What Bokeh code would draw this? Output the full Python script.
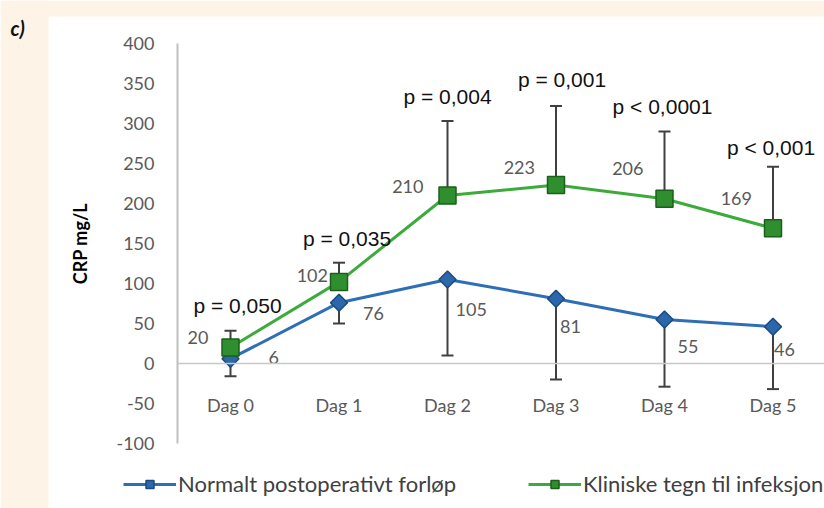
import numpy as np
from bokeh.plotting import figure
from bokeh.models import (ColumnDataSource, Range1d, FixedTicker, Whisker, TeeHead,
                          Legend, LegendItem, BoxAnnotation, Label)
from bokeh.core.properties import value
from bokeh.embed import file_html
from bokeh.resources import INLINE

# ---------------- data ----------------
days = ["Dag 0", "Dag 1", "Dag 2", "Dag 3", "Dag 4", "Dag 5"]
normal_mean = [6, 76, 105, 81, 55, 46]
normal_sd = [22, 26, 95, 101, 84, 78]
infection_mean = [20, 102, 210, 223, 206, 169]
infection_sd = [21, 24, 93, 99, 84, 77]
p_values = ["p = 0,050", "p = 0,035", "p = 0,004", "p = 0,001", "p < 0,0001", "p < 0,001"]
y_ticks = [-100, -50, 0, 50, 100, 150, 200, 250, 300, 350, 400]
series_names = ["Normalt postoperativt forløp", "Kliniske tegn til infeksjon"]
y_title = "CRP mg/L"
panel_tag = "c)"

# ---------------- label nudges (pixels, layout only) ----------------
green_dx = [-22, -11, -24, -21, -21, -21]
green_dy = [-10, -6, -9, -18, -30, -30]
blue_dx = [38, 24, 8, 4, 13, 1]
blue_dy = [-1, 11, 30, 28, 27, 23]
p_dx = [7, 8, 0, 6, -2, -2]
p_dy = [-25, -24, -25, -26, -25, -19]

# ---------------- layout constants ----------------
W, H = 824, 508
PX_PER_DAY = 108.5
PX_PER_UNIT = 0.8
DAY0_PX = 230
ZERO_PX = 363
YAXIS_PX = 177
CREAM = "#fdf4e7"
BLUE = "#2d6fb6"
GREEN = "#3cab3c"
BAR = "#404040"
TICK = "#595959"

x_start = -DAY0_PX / PX_PER_DAY
x_end = (W - DAY0_PX) / PX_PER_DAY
y_end = ZERO_PX / PX_PER_UNIT
y_start = -(H - ZERO_PX) / PX_PER_UNIT
yaxis_x = (YAXIS_PX - DAY0_PX) / PX_PER_DAY

xs = list(range(len(days)))

src_n = ColumnDataSource(dict(
    x=xs, y=normal_mean,
    lower=[m - s for m, s in zip(normal_mean, normal_sd)],
    label=[str(v) for v in normal_mean], dx=blue_dx, dy=blue_dy))
src_i = ColumnDataSource(dict(
    x=xs, y=infection_mean,
    upper=[m + s for m, s in zip(infection_mean, infection_sd)],
    label=[str(v) for v in infection_mean], dx=green_dx, dy=green_dy))
src_p = ColumnDataSource(dict(
    x=xs, y=[m + s for m, s in zip(infection_mean, infection_sd)],
    text=p_values, dx=p_dx, dy=p_dy))

p = figure(width=W, height=H, x_range=Range1d(x_start, x_end),
           y_range=Range1d(y_start, y_end), output_backend="svg",
           toolbar_location=None, min_border=0,
           background_fill_color="white", border_fill_color="white")
p.outline_line_color = None
p.grid.visible = False

# cream page strips
p.add_layout(BoxAnnotation(right=x_start + 48 / PX_PER_DAY, fill_color=CREAM, fill_alpha=1.0,
                           line_color=None, level="underlay"))
p.add_layout(BoxAnnotation(bottom=y_end - 16 / PX_PER_UNIT, fill_color=CREAM, fill_alpha=1.0,
                           line_color=None, level="underlay"))

# error bars
p.add_layout(Whisker(source=src_n, base="x", upper="y", lower="lower", dimension="height",
                     line_color=BAR, line_width=2, upper_head=None,
                     lower_head=TeeHead(size=12, line_color=BAR, line_width=2),
                     level="underlay"))
p.add_layout(Whisker(source=src_i, base="x", upper="upper", lower="y", dimension="height",
                     line_color=BAR, line_width=2, lower_head=None,
                     upper_head=TeeHead(size=12, line_color=BAR, line_width=2),
                     level="underlay"))

# series
line_n = p.line("x", "y", source=src_n, line_color=BLUE, line_width=3)
mk_n = p.scatter("x", "y", source=src_n, marker="square", angle=np.pi / 4, size=12,
                 fill_color="#2a68ab", line_color="#1b4a80", line_width=1.5)
line_i = p.line("x", "y", source=src_i, line_color=GREEN, line_width=3)
mk_i = p.scatter("x", "y", source=src_i, marker="square", size=17,
                 fill_color="#2f8f2f", line_color="#1c5f1c", line_width=1.5)

# data labels
p.text("x", "y", text="label", source=src_n, x_offset="dx", y_offset="dy",
       text_align="left", text_baseline="middle", text_font=value("Lato"),
       text_font_size="18px", text_color=TICK)
p.text("x", "y", text="label", source=src_i, x_offset="dx", y_offset="dy",
       text_align="right", text_baseline="middle", text_font=value("Lato"),
       text_font_size="18px", text_color=TICK)
p.text("x", "y", text="text", source=src_p, x_offset="dx", y_offset="dy",
       text_align="center", text_baseline="middle", text_font=value("Liberation Sans"),
       text_font_size="21px", text_color="#111111")

# axes
xa = p.xaxis[0]
xa.fixed_location = 0
xa.bounds = (yaxis_x, x_end)
xa.ticker = FixedTicker(ticks=xs)
xa.major_label_overrides = {i: d for i, d in enumerate(days)}
xa.major_tick_in = 0
xa.major_tick_out = 0
xa.minor_tick_in = 0
xa.minor_tick_out = 0
xa.axis_line_color = "#c8c8c8"
xa.axis_line_width = 1.5
xa.major_label_standoff = 30
xa.major_label_text_font = "Lato"
xa.major_label_text_font_size = "18px"
xa.major_label_text_color = TICK

ya = p.yaxis[0]
ya.fixed_location = yaxis_x
ya.bounds = (y_ticks[0], y_ticks[-1])
ya.ticker = FixedTicker(ticks=y_ticks)
ya.major_label_overrides = {t: str(t) for t in y_ticks}
ya.major_tick_in = 0
ya.major_tick_out = 0
ya.minor_tick_in = 0
ya.minor_tick_out = 0
ya.axis_line_color = "#c0c0c0"
ya.axis_line_width = 2
ya.major_label_standoff = 23
ya.major_label_text_font = "Lato"
ya.major_label_text_font_size = "18px"
ya.major_label_text_color = TICK
ya.axis_label = y_title
ya.axis_label_text_font = "Lato"
ya.axis_label_text_font_style = "bold"
ya.axis_label_text_font_size = "18px"
ya.axis_label_text_color = "#000000"
ya.axis_label_standoff = 22

# legends
for name, rends, loc in [(series_names[0], [line_n, mk_n], (123, 11)),
                         (series_names[1], [line_i, mk_i], (528, 11))]:
    leg = Legend(items=[LegendItem(label=name, renderers=rends)], location=loc,
                 orientation="horizontal", glyph_width=53, glyph_height=20,
                 label_standoff=2, padding=0, margin=0, spacing=0,
                 border_line_color=None, background_fill_alpha=0,
                 label_text_font="Lato", label_text_font_size="22px",
                 label_text_color="#404040")
    p.add_layout(leg)

p.add_layout(Label(x=x_start + 10 / PX_PER_DAY, y=y_end - 27 / PX_PER_UNIT, text=panel_tag,
                   text_font="Lato", text_font_style="bold italic", text_font_size="20px",
                   text_baseline="middle", text_color="#111111"))

open("out.html", "w").write(file_html(p, INLINE))
